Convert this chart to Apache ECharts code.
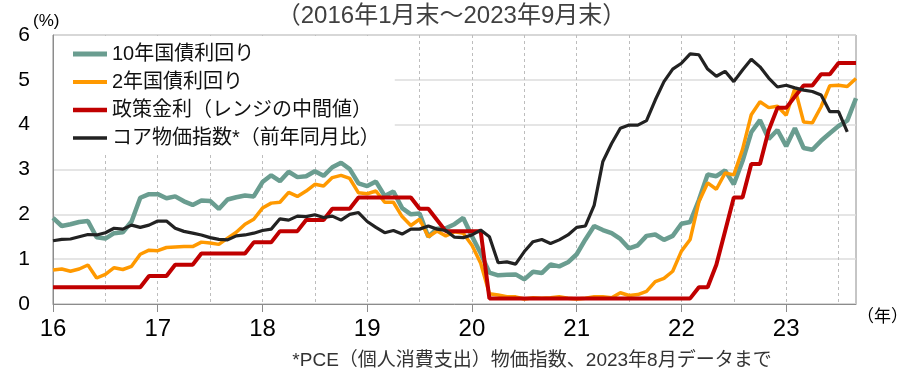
<!DOCTYPE html>
<html>
<head>
<meta charset="utf-8">
<script src="https://cdn.jsdelivr.net/npm/echarts@6/dist/echarts.min.js"></script>
<style>
  html, body { margin: 0; padding: 0; background: #fff; }
  #chart { width: 903px; height: 371px; }
</style>
</head>
<body>
<div id="chart"></div>
<script>
// Monthly observations, Jan 2016 – Sep 2023 (month-end, %)
const startYear = 2016;
const endYear = 2023;
const endMonth = 9;
const yearTicks = ['16', '17', '18', '19', '20', '21', '22', '23'];

const tenYear = [
  1.92, 1.74, 1.78, 1.83, 1.85, 1.49, 1.46, 1.58, 1.60, 1.84, 2.37, 2.45,
  2.45, 2.36, 2.40, 2.29, 2.21, 2.31, 2.30, 2.12, 2.33, 2.38, 2.42, 2.40,
  2.72, 2.87, 2.74, 2.95, 2.83, 2.85, 2.96, 2.86, 3.05, 3.15, 3.01, 2.69,
  2.63, 2.73, 2.41, 2.51, 2.14, 2.00, 2.02, 1.50, 1.68, 1.69, 1.78, 1.92,
  1.51, 1.13, 0.70, 0.64, 0.65, 0.66, 0.55, 0.72, 0.69, 0.88, 0.84, 0.93,
  1.11, 1.44, 1.74, 1.65, 1.58, 1.45, 1.24, 1.31, 1.52, 1.55, 1.43, 1.52,
  1.79, 1.83, 2.32, 2.89, 2.85, 2.98, 2.67, 3.19, 3.83, 4.10, 3.68, 3.88,
  3.52, 3.92, 3.48, 3.44, 3.64, 3.81, 3.97, 4.09, 4.59
];

const twoYear = [
  0.76, 0.78, 0.73, 0.78, 0.87, 0.58, 0.66, 0.81, 0.77, 0.84, 1.11, 1.20,
  1.19, 1.26, 1.27, 1.28, 1.28, 1.38, 1.36, 1.33, 1.47, 1.60, 1.78, 1.89,
  2.14, 2.25, 2.27, 2.49, 2.40, 2.52, 2.67, 2.63, 2.82, 2.87, 2.80, 2.48,
  2.46, 2.52, 2.27, 2.27, 1.95, 1.75, 1.89, 1.50, 1.63, 1.52, 1.61, 1.58,
  1.31, 0.91, 0.23, 0.20, 0.16, 0.16, 0.11, 0.14, 0.13, 0.14, 0.16, 0.13,
  0.11, 0.13, 0.16, 0.16, 0.14, 0.25, 0.19, 0.21, 0.28, 0.50, 0.57, 0.73,
  1.18, 1.44, 2.28, 2.70, 2.56, 2.92, 2.88, 3.45, 4.22, 4.51, 4.38, 4.41,
  4.21, 4.81, 4.06, 4.04, 4.40, 4.87, 4.88, 4.85, 5.03
];

// Policy rate: midpoint of the target range
const policyRate = [
  0.375, 0.375, 0.375, 0.375, 0.375, 0.375, 0.375, 0.375, 0.375, 0.375, 0.375, 0.625,
  0.625, 0.625, 0.875, 0.875, 0.875, 1.125, 1.125, 1.125, 1.125, 1.125, 1.125, 1.375,
  1.375, 1.375, 1.625, 1.625, 1.625, 1.875, 1.875, 1.875, 2.125, 2.125, 2.125, 2.375,
  2.375, 2.375, 2.375, 2.375, 2.375, 2.375, 2.125, 2.125, 1.875, 1.625, 1.625, 1.625,
  1.625, 1.625, 0.125, 0.125, 0.125, 0.125, 0.125, 0.125, 0.125, 0.125, 0.125, 0.125,
  0.125, 0.125, 0.125, 0.125, 0.125, 0.125, 0.125, 0.125, 0.125, 0.125, 0.125, 0.125,
  0.125, 0.125, 0.375, 0.375, 0.875, 1.625, 2.375, 2.375, 3.125, 3.125, 3.875, 4.375,
  4.375, 4.625, 4.875, 4.875, 5.125, 5.125, 5.375, 5.375, 5.375
];

// Core PCE, year-over-year (through Aug 2023)
const corePCE = [
  1.41, 1.44, 1.45, 1.50, 1.55, 1.54, 1.59, 1.69, 1.67, 1.76, 1.71, 1.76,
  1.85, 1.85, 1.69, 1.62, 1.58, 1.54, 1.48, 1.44, 1.43, 1.52, 1.54, 1.58,
  1.64, 1.67, 1.90, 1.87, 1.96, 1.95, 1.99, 1.93, 1.96, 1.87, 2.00, 2.04,
  1.84, 1.71, 1.59, 1.64, 1.56, 1.67, 1.67, 1.74, 1.67, 1.64, 1.49, 1.48,
  1.54, 1.65, 1.50, 0.92, 0.94, 0.89, 1.17, 1.39, 1.44, 1.35, 1.43, 1.54,
  1.71, 1.74, 2.20, 3.18, 3.58, 3.92, 3.99, 3.99, 4.09, 4.55, 4.96, 5.24,
  5.37, 5.58, 5.56, 5.24, 5.08, 5.19, 4.96, 5.22, 5.46, 5.29, 5.04, 4.84,
  4.88, 4.82, 4.77, 4.74, 4.66, 4.29, 4.29, 3.84
];

const seriesNames = ['10年国債利回り', '2年国債利回り', '政策金利（レンジの中間値）', 'コア物価指数*（前年同月比）'];
const seriesColors = ['#6a9d90', '#ff9900', '#c00000', '#222222'];
const lineWidths = [4.5, 3.5, 4, 3.2];

// Month categories, e.g. "2016-01"
const months = [];
for (let y = startYear; y <= endYear; y++) {
  const last = (y === endYear) ? endMonth : 12;
  for (let m = 1; m <= last; m++) months.push(y + '-' + String(m).padStart(2, '0'));
}

const FONT = "'Liberation Sans', 'Noto Sans CJK JP', sans-serif";

// Legend key: a plain bar of the series' line thickness, centred in a 34x14 box
function legendBar(w) {
  const top = (14 - w) / 2, bot = top + w;
  return 'path://M0,0 M34,14 M0,' + top + ' L34,' + top + ' L34,' + bot + ' L0,' + bot + ' Z';
}

const chart = echarts.init(document.getElementById('chart'), null, { renderer: 'canvas' });

chart.setOption({
  animation: false,
  backgroundColor: '#fff',
  textStyle: { fontFamily: FONT },
  title: {
    text: '（2016年1月末～2023年9月末）',
    left: 'center',
    top: -1,
    textStyle: { fontFamily: FONT, fontSize: 24, fontWeight: 'normal', color: '#404040' }
  },
  grid: {
    left: 53, right: 47, top: 35, bottom: 67,
    show: true, borderColor: '#8c8c8c', borderWidth: 1
  },
  legend: {
    data: seriesNames.map((n, i) => ({ name: n, icon: legendBar(lineWidths[i] + 0.5) })),
    orient: 'vertical',
    left: 54, top: 36,
    padding: [8, 15, 5, 19],
    itemGap: 8,
    itemWidth: 34,
    itemHeight: 14,
    backgroundColor: '#fff',
    textStyle: { fontFamily: FONT, fontSize: 20, color: '#111' }
  },
  xAxis: {
    type: 'category',
    data: months,
    boundaryGap: false,
    axisLine: { lineStyle: { color: '#8c8c8c', width: 1 } },
    axisTick: { show: true, interval: 11, length: 8, lineStyle: { color: '#8c8c8c' } },
    axisLabel: {
      interval: 11,
      margin: 13,
      fontSize: 24,
      color: '#000',
      fontFamily: FONT,
      formatter: (v) => yearTicks[Number(v.slice(0, 4)) - startYear]
    },
    splitLine: { show: true, interval: 5, lineStyle: { color: '#bdbdbd', type: [3, 3], width: 1 } }
  },
  yAxis: {
    type: 'value',
    min: 0, max: 6, interval: 1,
    axisLine: { show: true, lineStyle: { color: '#8c8c8c' } },
    axisTick: { show: false },
    axisLabel: { fontSize: 21, color: '#000', margin: 23, fontFamily: FONT },
    splitLine: { lineStyle: { color: '#dcdcdc', width: 1.5 } }
  },
  graphic: [
    { type: 'text', left: 33, top: 13, style: { text: '(%)', font: "17px " + FONT, fill: '#000' } },
    { type: 'text', left: 857, top: 309, style: { text: '（年）', font: "17px " + FONT, fill: '#000' } },
    { type: 'text', x: 532, y: 361, style: { text: '*PCE（個人消費支出）物価指数、2023年8月データまで', font: "19px " + FONT, fill: '#333', textAlign: 'center', textVerticalAlign: 'middle' } }
  ],
  series: seriesNames.map((n, i) => ({
    name: n,
    type: 'line',
    data: [tenYear, twoYear, policyRate, corePCE][i],
    symbol: 'none',
    z: 2 + i,
    lineStyle: { color: seriesColors[i], width: lineWidths[i] },
    itemStyle: { color: seriesColors[i] }
  }))
});
</script>
</body>
</html>
